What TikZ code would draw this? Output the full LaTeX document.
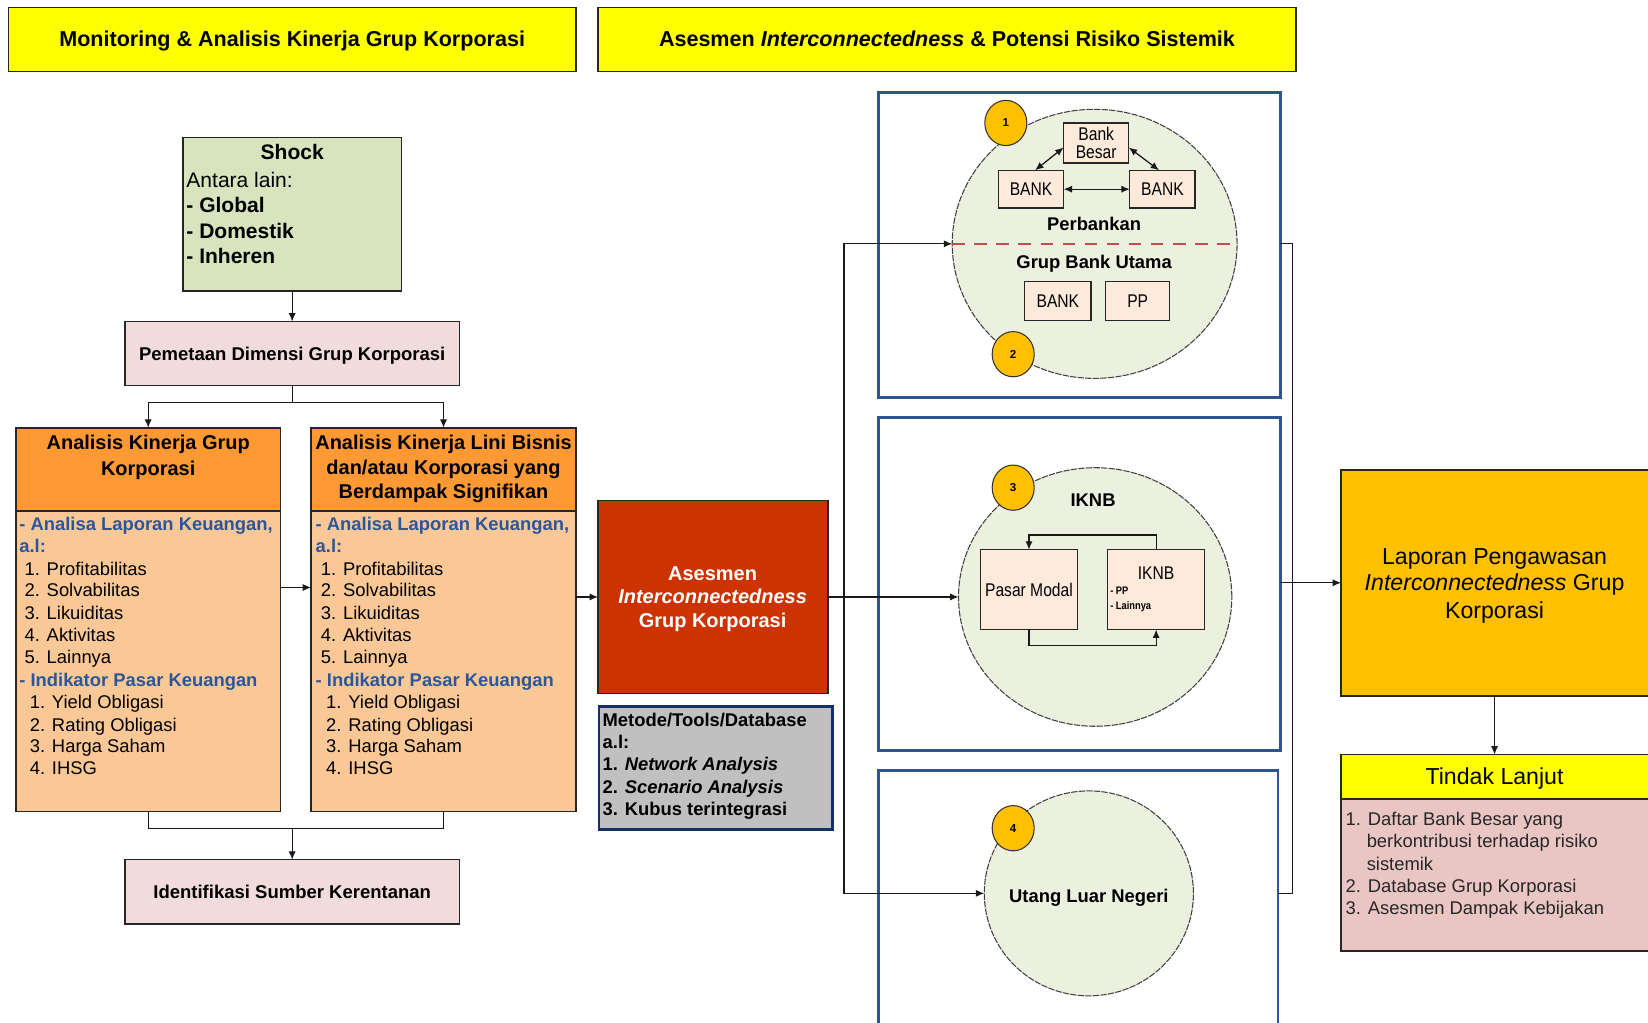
\documentclass[tikz,border=0pt]{standalone}
\usepackage{fontspec}
\setmainfont{Liberation Sans}
\newfontfamily\narrowsans[FakeStretch=0.85]{Liberation Sans}
\usetikzlibrary{arrows.meta,fit,shapes.geometric,calc}

\definecolor{titleyellow}{HTML}{FFFF00}
\definecolor{shockgreen}{HTML}{D7E4BD}
\definecolor{mappink}{HTML}{F2DCDB}
\definecolor{headorange}{HTML}{FF9933}
\definecolor{bodypeach}{HTML}{FAC896}
\definecolor{listblue}{HTML}{2B579A}
\definecolor{assessred}{HTML}{CC3300}
\definecolor{toolgray}{HTML}{C0C0C0}
\definecolor{navy}{HTML}{14306B}
\definecolor{frameblue}{HTML}{2F5496}
\definecolor{sectorfill}{HTML}{EBF1DE}
\definecolor{entityfill}{HTML}{FDEADA}
\definecolor{badgegold}{HTML}{FFC000}
\definecolor{reportgold}{HTML}{FFC000}
\definecolor{followpink}{HTML}{E9C5C4}
\definecolor{splitred}{HTML}{C0504D}

\newcommand\fs[2]{\fontsize{#1}{#2}\selectfont}

% list of financial indicators inside one analysis column (x offset as argument)
\newcommand\indicatorlist[1]{%
  \node[bluehead] at (#1+18,505) {- Analisa Laporan Keuangan,};
  \node[bluehead] at (#1+18,526) {a.l:};
  \node[body] at (#1+23,548) {1. Profitabilitas};
  \node[body] at (#1+23,568) {2. Solvabilitas};
  \node[body] at (#1+23,589) {3. Likuiditas};
  \node[body] at (#1+23,610) {4. Aktivitas};
  \node[body] at (#1+23,631) {5. Lainnya};
  \node[bluehead] at (#1+18,653) {- Indikator Pasar Keuangan};
  \node[body] at (#1+28,674) {1. Yield Obligasi};
  \node[body] at (#1+28,696) {2. Rating Obligasi};
  \node[body] at (#1+28,716) {3. Harga Saham};
  \node[body] at (#1+28,737) {4. IHSG};
}

\begin{document}
\begin{tikzpicture}[x=0.5pt, y=-0.5pt,
  box/.style={draw=black!85, line width=0.7pt, inner sep=0pt, outer sep=0pt},
  frame/.style={draw=frameblue, line width=1.3pt, inner sep=0pt, outer sep=0pt},
  sector/.style={ellipse, draw=black!75, line width=0.5pt, dash pattern=on 3pt off 0.6pt,
                 fill=sectorfill, inner sep=0pt, outer sep=0pt},
  entity/.style={box, fill=entityfill, line width=0.6pt},
  entitytext/.style={inner sep=0pt, align=center, font=\narrowsans\fs{8.75}{9}},
  badge/.style={ellipse, draw=black!80, line width=0.5pt, fill=badgegold,
                minimum width=20pt, minimum height=21.5pt, inner sep=0pt,
                font=\bfseries\fs{5.5}{6}},
  link/.style={draw=black!90, line width=0.6pt},
  arr/.style={link, -{Latex[length=4pt,width=3.4pt]}},
  darr/.style={link, {Latex[length=4pt,width=3.4pt]}-{Latex[length=4pt,width=3.4pt]}},
  body/.style={anchor=base west, inner sep=0pt, font=\fs{8.75}{10}},
  bluehead/.style={body, text=listblue, font=\bfseries\fs{8.75}{10}},
  line/.style={anchor=base, inner sep=0pt},
]
\useasboundingbox (0,0) rectangle (1568,973);
\fill[white] (0,0) rectangle (1568,973);

% ---------- section titles ----------
\node[box, fill=titleyellow, fit={(8,7)(548,68)}] (t1) {};
\node[line, font=\bfseries\fs{10.25}{12}] (t1text) at (278,44)
  {Monitoring \& Analisis Kinerja Grup Korporasi};
\node[box, fill=titleyellow, fit={(569,7)(1233,68)}] (t2) {};
\node[line, font=\bfseries\fs{10.25}{12}] (t2text) at (901,44)
  {Asesmen \textit{Interconnectedness} \& Potensi Risiko Sistemik};

% ---------- shock ----------
\node[box, fill=shockgreen, fit={(174,131)(382,277)}] (shock) {};
\node[line, font=\bfseries\fs{10}{12}] (shockhead) at (278,152) {Shock};
\node[anchor=base west, inner sep=0pt, font=\fs{10}{12}] (shock1) at (177,178) {Antara lain:};
\node[anchor=base west, inner sep=0pt, font=\bfseries\fs{10}{12}] (shock2) at (177,202) {- Global};
\node[anchor=base west, inner sep=0pt, font=\bfseries\fs{10}{12}] (shock3) at (177,227) {- Domestik};
\node[anchor=base west, inner sep=0pt, font=\bfseries\fs{10}{12}] (shock4) at (177,251) {- Inheren};

% ---------- mapping ----------
\node[box, fill=mappink, fit={(119,306)(437,367)}] (pem) {};
\node[line, font=\bfseries\fs{8.8}{10}] (pemtext) at (278,343) {Pemetaan Dimensi Grup Korporasi};

% ---------- analysis columns ----------
\node[box, fill=bodypeach, fit={(15,407)(267,772)}] (aL) {};
\node[box, fill=headorange, fit={(15,407)(267,486)}] (aLh) {};
\node[box, fill=bodypeach, fit={(296,407)(548,772)}] (aR) {};
\node[box, fill=headorange, fit={(296,407)(548,486)}] (aRh) {};

\begin{scope}[every node/.style={line, font=\bfseries\fs{9.5}{11}}]
  \node (aLt1) at (141,428) {Analisis Kinerja Grup};
  \node (aLt2) at (141,452) {Korporasi};
  \node (aRt1) at (422,428) {Analisis Kinerja Lini Bisnis};
  \node (aRt2) at (422,451) {dan/atau Korporasi yang};
  \node (aRt3) at (422,474) {Berdampak Signifikan};
\end{scope}
\indicatorlist{0}
\indicatorlist{282}

% ---------- vulnerability ----------
\node[box, fill=mappink, fit={(119,818)(437,879)}] (idf) {};
\node[line, font=\bfseries\fs{8.8}{10}] (idftext) at (278,855) {Identifikasi Sumber Kerentanan};

% ---------- interconnectedness assessment ----------
\node[box, fill=assessred, fit={(569,476)(788,660)}] (red) {};
\begin{scope}[every node/.style={line, text=white, font=\bfseries\fs{9.5}{11}}]
  \node (red1) at (678,552) {Asesmen};
  \node (red2) at (678,574) {\textit{Interconnectedness}};
  \node (red3) at (678,597) {Grup Korporasi};
\end{scope}

\node[fit={(570,672)(792,789)}, draw=navy, line width=1.3pt, fill=toolgray, inner sep=0pt] (tools) {};
\begin{scope}[every node/.style={anchor=base west, inner sep=0pt, font=\bfseries\fs{8.75}{10}}]
  \node (tool1) at (573,691) {Metode/Tools/Database};
  \node (tool2) at (573,712) {a.l:};
  \node (tool3) at (573,733) {1. \textit{Network Analysis}};
  \node (tool4) at (573,755) {2. \textit{Scenario Analysis}};
  \node (tool5) at (573,776) {3. Kubus terintegrasi};
\end{scope}

% ---------- sector frames ----------
\node[frame, fit={(836,88)(1218,378)}] (bA) {};
\node[frame, fit={(836,397)(1218,714)}] (bB) {};
\node[frame, fit={(836,733)(1216,990)}] (bC) {};

% sector 1: banking
\node[sector, minimum width=135.5pt, minimum height=128pt] (c1) at (1041.5,232) {};
\draw[splitred, line width=0.9pt, dash pattern=on 6pt off 4.5pt] (c1.west) -- (c1.east);
\node[entity, fit={(1012,117)(1074,155)}] (bb) {};
\node[entitytext] (bbtext) at (bb.center) {Bank\\Besar};
\node[entity, fit={(950,162)(1012,198)}] (bk1) {};
\node[entitytext] (bk1text) at (bk1.center) {BANK};
\node[entity, fit={(1075,162)(1137,198)}] (bk2) {};
\node[entitytext] (bk2text) at (bk2.center) {BANK};
\draw[darr] (bk1) -- (bk2);
\draw[darr] (bb.188) -- (bk1.78);
\draw[darr] (bb.-8) -- (bk2.100);
\node[line, font=\bfseries\fs{8.75}{10}] (perb) at (1041,219) {Perbankan};
\node[line, font=\bfseries\fs{8.75}{10}] (gbu) at (1041,255) {Grup Bank Utama};
\node[entity, fit={(975,268)(1038,305)}] (bk3) {};
\node[entitytext] (bk3text) at (bk3.center) {BANK};
\node[entity, fit={(1052,268)(1113,305)}] (pp) {};
\node[entitytext] (pptext) at (pp.center) {PP};
\node[badge] (n1) at (957,117) {1};
\node[badge] (n2) at (964,337) {2};

% sector 2: non-bank financial industry
\node[sector, minimum width=130pt, minimum height=123pt] (c3) at (1042,568) {};
\node[line, font=\bfseries\fs{8.75}{10}] (iknbt) at (1040,482) {IKNB};
\node[entity, fit={(933,523)(1025,599)}] (pm) {};
\node[entitytext] (pmtext) at (pm.center) {Pasar Modal};
\node[entity, fit={(1054,523)(1146,599)}] (ik) {};
\node[line, font=\narrowsans\fs{8.75}{10}] (ikt) at (1100,551) {IKNB};
\node[anchor=base west, inner sep=0pt, font=\narrowsans\bfseries\fs{5.2}{6}] (ik1) at (1056,566) {- PP};
\node[anchor=base west, inner sep=0pt, font=\narrowsans\bfseries\fs{5.2}{6}] (ik2) at (1056,580) {- Lainnya};
\draw[arr] (ik.north) -- ++(0,-14) -| (pm.north);
\draw[arr] (pm.south) -- ++(0,15) -| (ik.south);
\node[badge] (n3) at (964,464) {3};

% sector 3: external debt
\node[sector, minimum width=99.5pt, minimum height=97.5pt] (c4) at (1036,850) {};
\node[line, font=\bfseries\fs{8.75}{10}] (uln) at (1036,859) {Utang Luar Negeri};
\node[badge] (n4) at (964,788) {4};

% ---------- report and follow-up ----------
\node[box, fill=reportgold, fit={(1276,447)(1574,662)}] (lap) {};
\begin{scope}[every node/.style={line, font=\fs{11}{13}}]
  \node (lap1) at (1422,537) {Laporan Pengawasan};
  \node (lap2) at (1422,562) {\textit{Interconnectedness} Grup};
  \node (lap3) at (1422,588) {Korporasi};
\end{scope}
\node[box, fill=followpink, fit={(1276,760)(1574,905)}] (tlb) {};
\node[box, fill=titleyellow, fit={(1276,718)(1574,760)}] (tlh) {};
\node[line, font=\fs{11}{13}] (tlt) at (1422,746) {Tindak Lanjut};
\begin{scope}[every node/.style={anchor=base west, inner sep=0pt, text=black!85, font=\fs{8.75}{10}}]
  \node (tl1) at (1280,785) {1. Daftar Bank Besar yang};
  \node (tl1b) at (1300,806) {berkontribusi terhadap risiko};
  \node (tl1c) at (1300,828) {sistemik};
  \node (tl2) at (1280,849) {2. Database Grup Korporasi};
  \node (tl3) at (1280,870) {3. Asesmen Dampak Kebijakan};
\end{scope}

% ---------- connectors ----------
\draw[arr] (shock) -- (pem);
\draw[arr] (pem.south) -- ++(0,16) -| (aL.north);
\draw[arr] (pem.south) -- ++(0,16) -| (aR.north);
\coordinate (join) at (278,788);
\draw[link] (aL.south) |- (join) -| (aR.south);
\draw[arr] (join) -- (idf);
\draw[arr] (aL.east |- 0,559) -- (aR.west |- 0,559);
\draw[arr] (aR.east |- red) -- (red);

\draw[arr] (red) -- (c3);
\coordinate (trunk) at (803,568);
\draw[arr] (trunk) |- (c1.west);
\draw[arr] (trunk) |- (c4.west);

\coordinate (merge) at (1230,555);
\draw[link] (bA.east |- c1) -| (merge);
\draw[link] (bC.east |- c4) -| (merge);
\draw[arr] (bB.east |- lap) -- (lap);
\draw[arr] (lap.south -| 1422,0) -- (tlh.north -| 1422,0);
\end{tikzpicture}
\end{document}
